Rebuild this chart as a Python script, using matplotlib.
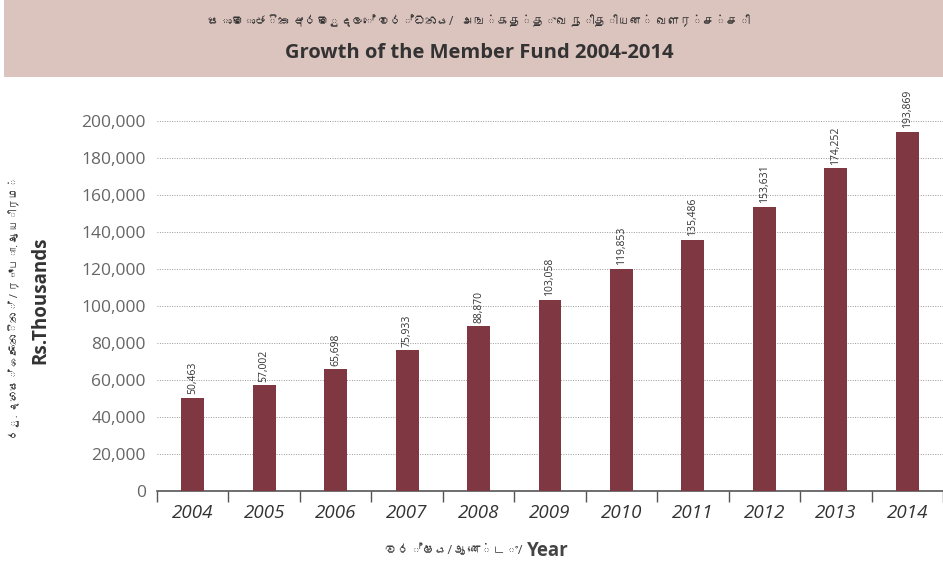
import matplotlib.pyplot as plt
from matplotlib import font_manager
from matplotlib.ft2font import FT2Font
from matplotlib.patches import Rectangle

years = ['2004', '2005', '2006', '2007', '2008', '2009', '2010', '2011', '2012', '2013', '2014']
fund = [50463, 57002, 65698, 75933, 88870, 103058, 119853, 135486, 153631, 174252, 193869]
yticks = [0, 20000, 40000, 60000, 80000, 100000, 120000, 140000, 160000, 180000, 200000]


def find_families(chars):
    # look for installed fonts that have Sinhala / Tamil glyphs
    found = []
    for path in font_manager.findSystemFonts():
        try:
            cmap = FT2Font(path).get_charmap()
        except Exception:
            continue
        if any(ord(c) in cmap for c in chars):
            name = font_manager.FontProperties(fname=path).get_name()
            if name not in found:
                found.append(name)
    return found


extra = find_families('සඅஅஆ')
fams = ['Open Sans'] + extra + ['DejaVu Sans']
plt.rcParams['font.family'] = fams

fig = plt.figure(figsize=(9.43, 5.77), dpi=100)

# header band
fig.patches.append(Rectangle((0.004, 0.866), 0.996, 0.134, transform=fig.transFigure,
                             facecolor='#dbc3be', edgecolor='none', zorder=0))
fig.text(0.508, 0.962, 'සාමාජික අරමුදලේ වර්ධනය/   அங்கத்துவ நிதியன் வளர்ச்சி',
         ha='center', va='center', fontsize=8.5, color='#333333')
fig.text(0.508, 0.909, 'Growth of the Member Fund 2004-2014', ha='center', va='center',
         fontsize=14.5, fontweight='bold', color='#333333')

ax = fig.add_axes([0.1665, 0.149, 0.8335, 0.69])
x = range(len(years))
ax.bar(x, fund, width=0.32, color='#7f3741', zorder=3)
for xi, v in zip(x, fund):
    ax.text(xi, v + 2000, f'{v:,}', rotation=90, ha='center', va='bottom',
            fontsize=7.5, color='#333333')

ax.set_xlim(-0.5, 10.38)
ax.set_ylim(0, 215000)
ax.set_yticks(yticks)
ax.set_yticklabels([f'{t:,}' for t in yticks], fontsize=12.5, color='#666666')
ax.set_xticks(list(x))
ax.set_xticklabels(years, fontsize=13.5, style='italic', color='#333333')
ax.tick_params(axis='y', length=0, pad=8)
ax.tick_params(axis='x', length=0, pad=9)
# category boundary ticks
ax.set_xticks([i - 0.5 for i in range(len(years) + 1)], minor=True)
ax.tick_params(axis='x', which='minor', length=8, color='#555555', width=1)
ax.grid(axis='y', linestyle=(0, (1, 1.5)), color='#999999', linewidth=0.7, zorder=0)
for s in ['top', 'right', 'left']:
    ax.spines[s].set_visible(False)
ax.spines['bottom'].set_color('#555555')
ax.spines['bottom'].set_linewidth(1.2)

fig.text(0.017, 0.468, 'රු. දහස් ගණනින් / ரூபா. ஆயிரம்', rotation=90, ha='center',
         va='center', fontsize=7.8, color='#333333')
fig.text(0.043, 0.48, 'Rs.Thousands', rotation=90, ha='center', va='center',
         fontsize=13.5, fontweight='bold', color='#333333')
fig.text(0.557, 0.045, 'වර්ෂය/ ஆண்டு/ ', ha='right', va='center', fontsize=9, color='#444444')
fig.text(0.559, 0.045, 'Year', ha='left', va='center', fontsize=13.5, fontweight='bold',
         color='#444444')

fig.savefig('out.png', dpi=100)
